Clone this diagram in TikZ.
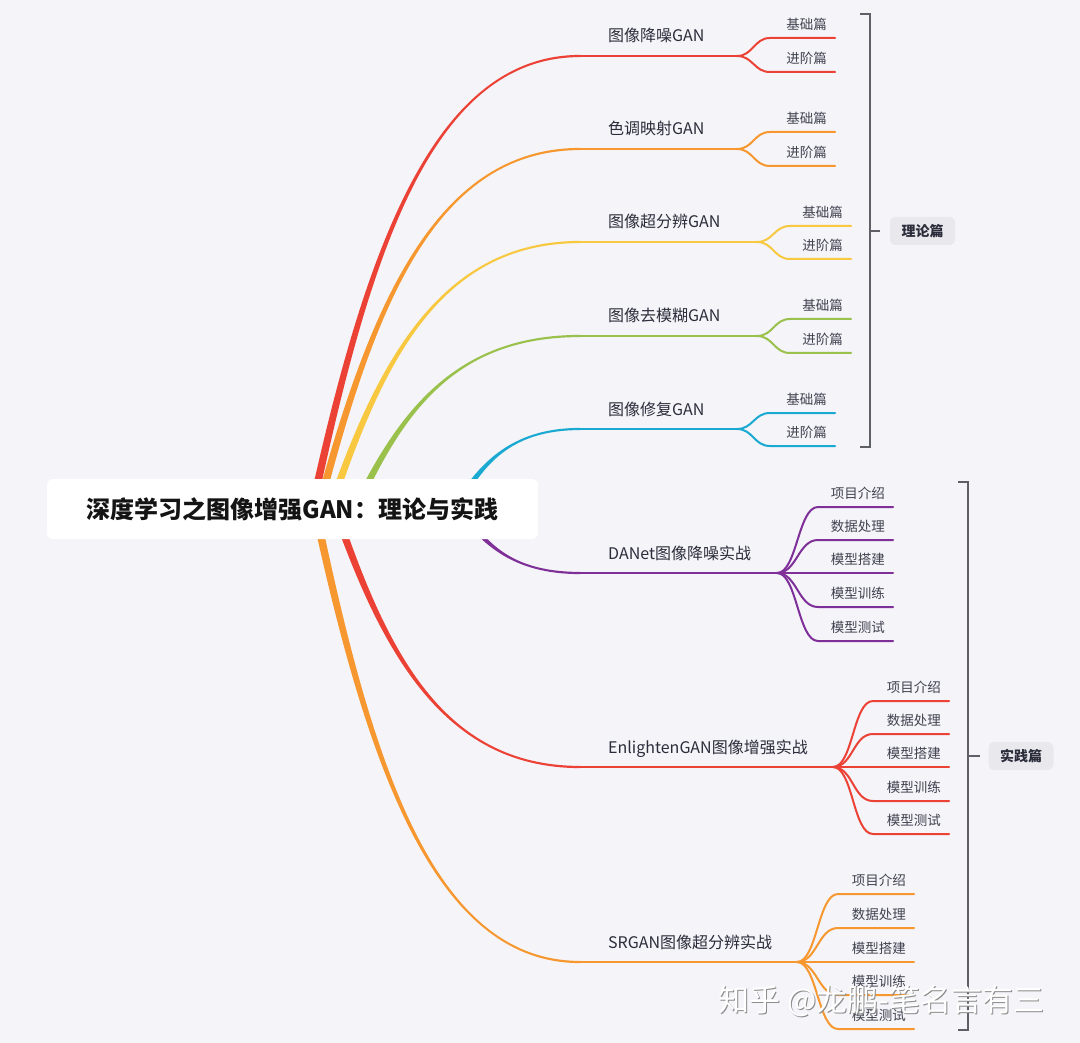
\documentclass[tikz,border=0pt]{standalone}
\usepackage{fontspec}
\setmainfont{Noto Sans CJK SC}
\usepackage{tikz}
\usetikzlibrary{calc}
\definecolor{mapbg}{HTML}{F4F4F9}
\definecolor{mapred}{HTML}{EC4235}
\definecolor{maporange}{HTML}{F6982F}
\definecolor{mapyellow}{HTML}{F8C940}
\definecolor{mapgreen}{HTML}{99C14C}
\definecolor{mapcyan}{HTML}{19A9D1}
\definecolor{mappurple}{HTML}{7E2F98}
\definecolor{mapink}{HTML}{2B2D3A}
\definecolor{mapgray}{HTML}{5F5F68}
\definecolor{mapbox}{HTML}{E8E8ED}

% tapered main branch: colour, from, to, +1 going up / -1 going down
\newcommand\limb[4]{%
  \fill[#1] let \p1=(#2), \p2=(#3) in
    ({\x1-4pt},\y1)
    .. controls ({\x1+0.2*(\x2-\x1)-3pt},{\y1+0.55*(\y2-\y1)})
            and ({\x1+0.44*(\x2-\x1)},{\y2+(#4)*1.1pt}) .. (\x2,{\y2+(#4)*1.1pt})
    -- (\x2,{\y2-(#4)*1.1pt})
    .. controls ({\x1+0.44*(\x2-\x1)},{\y2-(#4)*1.1pt})
            and ({\x1+0.2*(\x2-\x1)+3pt},{\y1+0.55*(\y2-\y1)}) .. ({\x1+4pt},\y1)
    -- cycle;}

\begin{document}
\begin{tikzpicture}[x=1pt, y=-1pt,
  twig/.style={line width=2pt, line cap=round},
  topic/.style={anchor=base west, inner sep=0pt, text=mapink, font=\fontsize{16}{16}\selectfont},
  leaf/.style={anchor=base east, inner sep=0pt, text=mapink!90, font=\fontsize{13.5}{13.5}\selectfont},
  bracket/.style={mapgray, line width=2.5pt},
  part/.style={fill=mapbox, rounded corners=5pt, minimum width=65, minimum height=28, inner sep=0pt, text=mapink, font=\bfseries\fontsize{14}{14}\selectfont}]
\fill[mapbg] (0,0) rectangle (1080,1043);
\useasboundingbox (0,0) rectangle (1080,1043);

\coordinate (hub) at (292.5,509);

% Theory branches
\coordinate (s1) at ($(hub)+(19.5,0)$);
\coordinate (b1) at (580,56);
\coordinate (k1) at (737,56);
\limb{mapred}{s1}{b1}{1}
\draw[twig, mapred] (b1) -- (k1);
\node[topic] (t1) at (608,42) {图像降噪GAN};
\foreach \yy/\txt [count=\i] in {38/基础篇, 72/进阶篇} {
  \coordinate (l1\i) at (770,\yy); \coordinate (e1\i) at (835,\yy);
  \draw[twig, mapred] (k1) .. controls +(16,0) and +(-16,0) .. (l1\i) -- (e1\i);
  \node[leaf] (n1\i) at ($(e1\i)+(-8,-8.5)$) {\txt};
}

\coordinate (s2) at ($(hub)+(26,0)$);
\coordinate (b2) at (580,149);
\coordinate (k2) at (737,149);
\limb{maporange}{s2}{b2}{1}
\draw[twig, maporange] (b2) -- (k2);
\node[topic] (t2) at (608,135) {色调映射GAN};
\foreach \yy/\txt [count=\i] in {132/基础篇, 166/进阶篇} {
  \coordinate (l2\i) at (770,\yy); \coordinate (e2\i) at (835,\yy);
  \draw[twig, maporange] (k2) .. controls +(16,0) and +(-16,0) .. (l2\i) -- (e2\i);
  \node[leaf] (n2\i) at ($(e2\i)+(-8,-8.5)$) {\txt};
}

\coordinate (s3) at ($(hub)+(37.5,0)$);
\coordinate (b3) at (580,242);
\coordinate (k3) at (757,242);
\limb{mapyellow}{s3}{b3}{1}
\draw[twig, mapyellow] (b3) -- (k3);
\node[topic] (t3) at (608,228) {图像超分辨GAN};
\foreach \yy/\txt [count=\i] in {226/基础篇, 259/进阶篇} {
  \coordinate (l3\i) at (790,\yy); \coordinate (e3\i) at (851,\yy);
  \draw[twig, mapyellow] (k3) .. controls +(16,0) and +(-16,0) .. (l3\i) -- (e3\i);
  \node[leaf] (n3\i) at ($(e3\i)+(-8,-8.5)$) {\txt};
}

\coordinate (s4) at ($(hub)+(62.5,0)$);
\coordinate (b4) at (580,336);
\coordinate (k4) at (757,336);
\limb{mapgreen}{s4}{b4}{1}
\draw[twig, mapgreen] (b4) -- (k4);
\node[topic] (t4) at (608,322) {图像去模糊GAN};
\foreach \yy/\txt [count=\i] in {319/基础篇, 353/进阶篇} {
  \coordinate (l4\i) at (790,\yy); \coordinate (e4\i) at (851,\yy);
  \draw[twig, mapgreen] (k4) .. controls +(16,0) and +(-16,0) .. (l4\i) -- (e4\i);
  \node[leaf] (n4\i) at ($(e4\i)+(-8,-8.5)$) {\txt};
}

\coordinate (s5) at ($(hub)+(162.5,0)$);
\coordinate (b5) at (580,429);
\coordinate (k5) at (737,429);
\limb{mapcyan}{s5}{b5}{1}
\draw[twig, mapcyan] (b5) -- (k5);
\node[topic] (t5) at (608,415) {图像修复GAN};
\foreach \yy/\txt [count=\i] in {413/基础篇, 446/进阶篇} {
  \coordinate (l5\i) at (770,\yy); \coordinate (e5\i) at (835,\yy);
  \draw[twig, mapcyan] (k5) .. controls +(16,0) and +(-16,0) .. (l5\i) -- (e5\i);
  \node[leaf] (n5\i) at ($(e5\i)+(-8,-8.5)$) {\txt};
}

% Practice branches
\coordinate (s6) at ($(hub)+(167.5,0)$);
\coordinate (b6) at (580,573);
\coordinate (k6) at (777,573);
\limb{mappurple}{s6}{b6}{-1}
\draw[twig, mappurple] (b6) -- (k6);
\node[topic] (t6) at (608,559) {DANet图像降噪实战};
\foreach \yy/\txt [count=\i] in {507/项目介绍, 540/数据处理, 573/模型搭建, 607/模型训练, 641/模型测试} {
  \coordinate (l6\i) at (818,\yy); \coordinate (e6\i) at (893,\yy);
  \draw[twig, mappurple] (k6) .. controls +(20,0) and +(-20,0) .. (l6\i) -- (e6\i);
  \node[leaf] (n6\i) at ($(e6\i)+(-8,-8.5)$) {\txt};
}

\coordinate (s7) at ($(hub)+(42.5,0)$);
\coordinate (b7) at (580,767);
\coordinate (k7) at (833,767);
\limb{mapred}{s7}{b7}{-1}
\draw[twig, mapred] (b7) -- (k7);
\node[topic] (t7) at (608,753) {EnlightenGAN图像增强实战};
\foreach \yy/\txt [count=\i] in {701/项目介绍, 734/数据处理, 767/模型搭建, 801/模型训练, 834/模型测试} {
  \coordinate (l7\i) at (873,\yy); \coordinate (e7\i) at (949,\yy);
  \draw[twig, mapred] (k7) .. controls +(20,0) and +(-20,0) .. (l7\i) -- (e7\i);
  \node[leaf] (n7\i) at ($(e7\i)+(-8,-8.5)$) {\txt};
}

\coordinate (s8) at ($(hub)+(22.5,0)$);
\coordinate (b8) at (580,962);
\coordinate (k8) at (797,962);
\limb{maporange}{s8}{b8}{-1}
\draw[twig, maporange] (b8) -- (k8);
\node[topic] (t8) at (608,948) {SRGAN图像超分辨实战};
\foreach \yy/\txt [count=\i] in {894/项目介绍, 928/数据处理, 962/模型搭建, 995/模型训练, 1029/模型测试} {
  \coordinate (l8\i) at (838,\yy); \coordinate (e8\i) at (914,\yy);
  \draw[twig, maporange] (k8) .. controls +(20,0) and +(-20,0) .. (l8\i) -- (e8\i);
  \node[leaf] (n8\i) at ($(e8\i)+(-8,-8.5)$) {\txt};
}

% Brackets and part labels
\draw[bracket] (860,14) -- (870,14) -- (870,447) -- (860,447);
\coordinate (m1) at (870,231);
\node[part] (theory) at (922.5,231) {理论篇};
\draw[bracket] (m1) -- +(10,0);

\draw[bracket] (958,482) -- (968,482) -- (968,1030) -- (958,1030);
\coordinate (m2) at (968,756);
\node[part] (practice) at (1021,756) {实践篇};
\draw[bracket] (m2) -- +(12,0);

% Root
\node[fill=white, rounded corners=6pt, minimum width=491, minimum height=60, inner sep=0pt,
  text=black!92, font=\bfseries\fontsize{24}{24}\selectfont] (root) at (hub) {深度学习之图像增强GAN：理论与实践};

% Watermark
\node[anchor=base west, inner sep=0pt, text=black!45, font=\fontsize{31}{31}\selectfont] (markshade) at (719.5,1012.5) {知乎 @龙鹏-笔名言有三};
\node[anchor=base west, inner sep=0pt, text=white, font=\fontsize{31}{31}\selectfont] (mark) at (718,1011) {知乎 @龙鹏-笔名言有三};
\end{tikzpicture}
\end{document}
